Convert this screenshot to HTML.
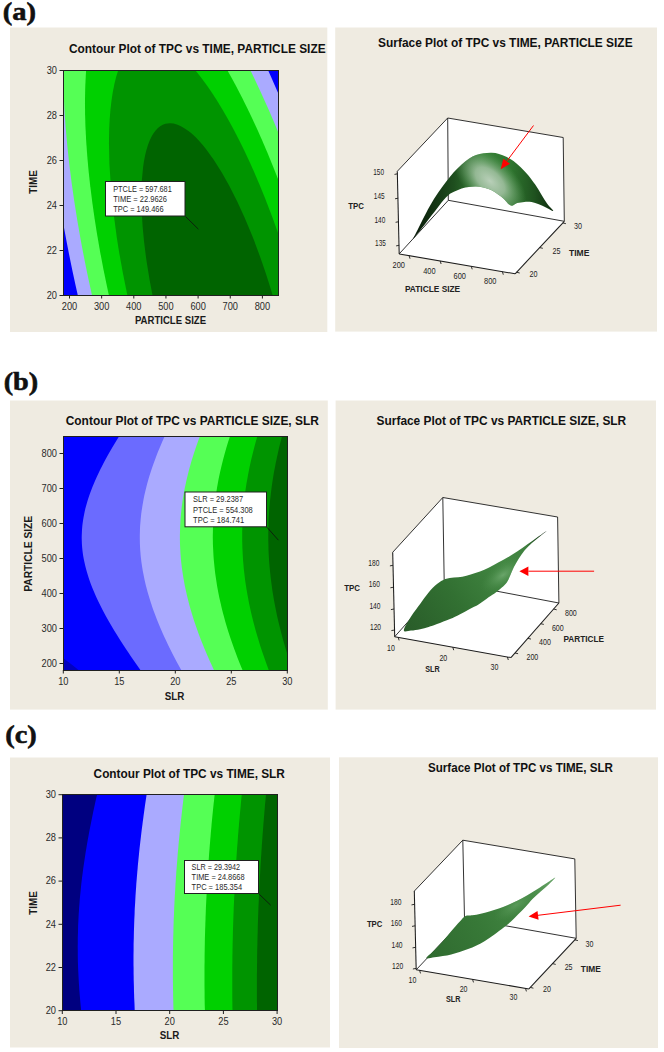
<!DOCTYPE html>
<html><head><meta charset="utf-8"><title>Figure</title>
<style>html,body{margin:0;padding:0;background:#fff}svg{display:block}</style>
</head><body>
<svg width="664" height="1052" viewBox="0 0 664 1052">
<rect width="664" height="1052" fill="#ffffff"/>
<rect x="10" y="27.5" width="317.3" height="304.5" fill="#efebe1"/>
<rect x="335.2" y="27.5" width="321.8" height="304.1" fill="#efebe1"/>
<rect x="10" y="400.5" width="317.8" height="309.1" fill="#efebe1"/>
<rect x="335.6" y="400.5" width="320.4" height="309.1" fill="#efebe1"/>
<rect x="10" y="757.5" width="320" height="290.0" fill="#efebe1"/>
<rect x="339" y="757.3" width="319" height="290.70000000000005" fill="#efebe1"/>
<text x="2.8" y="20.3" font-family="Liberation Serif, sans-serif" font-size="24.5" font-weight="bold" textLength="33.3" lengthAdjust="spacingAndGlyphs" stroke="#111" stroke-width="0.55" fill="#111">(a)</text>
<text x="3.7" y="389.5" font-family="Liberation Serif, sans-serif" font-size="24.5" font-weight="bold" textLength="34.5" lengthAdjust="spacingAndGlyphs" stroke="#111" stroke-width="0.55" fill="#111">(b)</text>
<text x="5.2" y="742.7" font-family="Liberation Serif, sans-serif" font-size="24.5" font-weight="bold" textLength="31.5" lengthAdjust="spacingAndGlyphs" stroke="#111" stroke-width="0.55" fill="#111">(c)</text>
<clipPath id="cpa"><rect x="63" y="70" width="216" height="226"/></clipPath>
<g clip-path="url(#cpa)">
<rect x="63" y="70" width="216" height="226" fill="#0000ff"/>
<ellipse cx="220.6" cy="327.6" rx="469.3" ry="130.8" transform="rotate(-105.14 220.6 327.6)" fill="#aaaaff"/>
<ellipse cx="220.6" cy="327.6" rx="419.9" ry="117.1" transform="rotate(-105.14 220.6 327.6)" fill="#55ff55"/>
<ellipse cx="220.6" cy="327.6" rx="361.7" ry="100.8" transform="rotate(-105.14 220.6 327.6)" fill="#00d000"/>
<ellipse cx="220.6" cy="327.6" rx="297.6" ry="83.0" transform="rotate(-105.14 220.6 327.6)" fill="#009400"/>
<ellipse cx="220.6" cy="327.6" rx="211.2" ry="58.9" transform="rotate(-105.14 220.6 327.6)" fill="#006400"/>
</g>
<rect x="63.5" y="70.5" width="215" height="225" fill="none" stroke="#202020" stroke-width="1"/>
<text x="69" y="53.3" font-family="Liberation Sans, sans-serif" font-size="13.4" font-weight="bold" textLength="256.6" lengthAdjust="spacingAndGlyphs" fill="#111">Contour Plot of TPC vs TIME, PARTICLE SIZE</text>
<line x1="69.5" y1="295" x2="69.5" y2="298.5" stroke="#202020" stroke-width="1"/>
<text x="69.5" y="309.6" font-family="Liberation Sans, sans-serif" font-size="10.3" text-anchor="middle" textLength="15.450000000000001" lengthAdjust="spacingAndGlyphs" fill="#2a2a2a">200</text>
<line x1="101.65" y1="295" x2="101.65" y2="298.5" stroke="#202020" stroke-width="1"/>
<text x="101.65" y="309.6" font-family="Liberation Sans, sans-serif" font-size="10.3" text-anchor="middle" textLength="15.450000000000001" lengthAdjust="spacingAndGlyphs" fill="#2a2a2a">300</text>
<line x1="133.8" y1="295" x2="133.8" y2="298.5" stroke="#202020" stroke-width="1"/>
<text x="133.8" y="309.6" font-family="Liberation Sans, sans-serif" font-size="10.3" text-anchor="middle" textLength="15.450000000000001" lengthAdjust="spacingAndGlyphs" fill="#2a2a2a">400</text>
<line x1="165.95" y1="295" x2="165.95" y2="298.5" stroke="#202020" stroke-width="1"/>
<text x="165.95" y="309.6" font-family="Liberation Sans, sans-serif" font-size="10.3" text-anchor="middle" textLength="15.450000000000001" lengthAdjust="spacingAndGlyphs" fill="#2a2a2a">500</text>
<line x1="198.1" y1="295" x2="198.1" y2="298.5" stroke="#202020" stroke-width="1"/>
<text x="198.1" y="309.6" font-family="Liberation Sans, sans-serif" font-size="10.3" text-anchor="middle" textLength="15.450000000000001" lengthAdjust="spacingAndGlyphs" fill="#2a2a2a">600</text>
<line x1="230.25" y1="295" x2="230.25" y2="298.5" stroke="#202020" stroke-width="1"/>
<text x="230.25" y="309.6" font-family="Liberation Sans, sans-serif" font-size="10.3" text-anchor="middle" textLength="15.450000000000001" lengthAdjust="spacingAndGlyphs" fill="#2a2a2a">700</text>
<line x1="262.4" y1="295" x2="262.4" y2="298.5" stroke="#202020" stroke-width="1"/>
<text x="262.4" y="309.6" font-family="Liberation Sans, sans-serif" font-size="10.3" text-anchor="middle" textLength="15.450000000000001" lengthAdjust="spacingAndGlyphs" fill="#2a2a2a">800</text>
<line x1="59.5" y1="295.5" x2="63" y2="295.5" stroke="#202020" stroke-width="1"/>
<text x="57" y="298.8" font-family="Liberation Sans, sans-serif" font-size="10.3" text-anchor="end" textLength="10.3" lengthAdjust="spacingAndGlyphs" fill="#2a2a2a">20</text>
<line x1="59.5" y1="250.5" x2="63" y2="250.5" stroke="#202020" stroke-width="1"/>
<text x="57" y="253.8" font-family="Liberation Sans, sans-serif" font-size="10.3" text-anchor="end" textLength="10.3" lengthAdjust="spacingAndGlyphs" fill="#2a2a2a">22</text>
<line x1="59.5" y1="205.5" x2="63" y2="205.5" stroke="#202020" stroke-width="1"/>
<text x="57" y="208.8" font-family="Liberation Sans, sans-serif" font-size="10.3" text-anchor="end" textLength="10.3" lengthAdjust="spacingAndGlyphs" fill="#2a2a2a">24</text>
<line x1="59.5" y1="160.5" x2="63" y2="160.5" stroke="#202020" stroke-width="1"/>
<text x="57" y="163.8" font-family="Liberation Sans, sans-serif" font-size="10.3" text-anchor="end" textLength="10.3" lengthAdjust="spacingAndGlyphs" fill="#2a2a2a">26</text>
<line x1="59.5" y1="115.5" x2="63" y2="115.5" stroke="#202020" stroke-width="1"/>
<text x="57" y="118.8" font-family="Liberation Sans, sans-serif" font-size="10.3" text-anchor="end" textLength="10.3" lengthAdjust="spacingAndGlyphs" fill="#2a2a2a">28</text>
<line x1="59.5" y1="70.5" x2="63" y2="70.5" stroke="#202020" stroke-width="1"/>
<text x="57" y="73.8" font-family="Liberation Sans, sans-serif" font-size="10.3" text-anchor="end" textLength="10.3" lengthAdjust="spacingAndGlyphs" fill="#2a2a2a">30</text>
<text x="170.5" y="324" font-family="Liberation Sans, sans-serif" font-size="10" font-weight="bold" text-anchor="middle" textLength="71.2" lengthAdjust="spacingAndGlyphs" fill="#1a1a1a">PARTICLE SIZE</text>
<text x="36.7" y="182" font-family="Liberation Sans, sans-serif" font-size="10" font-weight="bold" text-anchor="middle" textLength="23.3" lengthAdjust="spacingAndGlyphs" transform="rotate(-90 36.7 182)" fill="#1a1a1a">TIME</text>
<line x1="185.5" y1="216.5" x2="198.4" y2="229.2" stroke="#101010" stroke-width="0.8"/>
<rect x="105.5" y="181.5" width="79.5" height="34.5" fill="#ffffff" stroke="#202020" stroke-width="1"/>
<text x="113.2" y="192.10000000000002" font-family="Liberation Sans, sans-serif" font-size="8.8" textLength="58.6" lengthAdjust="spacingAndGlyphs" fill="#2a2a2a">PTCLE = 597.681</text>
<text x="113.2" y="201.8" font-family="Liberation Sans, sans-serif" font-size="8.8" textLength="53.8" lengthAdjust="spacingAndGlyphs" fill="#2a2a2a">TIME = 22.9626</text>
<text x="113.2" y="211.8" font-family="Liberation Sans, sans-serif" font-size="8.8" textLength="50.4" lengthAdjust="spacingAndGlyphs" fill="#2a2a2a">TPC = 149.466</text>
<clipPath id="cpb"><rect x="63" y="436" width="225" height="235"/></clipPath>
<g clip-path="url(#cpb)">
<rect x="63" y="436" width="225" height="235" fill="#0000c0"/>
<path d="M44.5 430.0C42.7 431.0 37.8 434.0 33.6 436.0C29.5 438.0 26.1 440.0 19.5 442.0C12.9 444.0 -1.7 446.0 -5.9 448.0C-10.1 450.0 -5.9 452.0 -5.9 454.0C-5.8 456.0 -5.8 458.0 -5.8 460.0C-5.8 462.0 -5.8 464.0 -5.8 466.0C-5.8 468.0 -5.8 470.0 -5.7 472.0C-5.7 474.0 -5.7 476.0 -5.7 478.0C-5.7 480.0 -5.7 482.0 -5.7 484.0C-5.7 486.0 -5.7 488.0 -5.6 490.0C-5.6 492.0 -5.6 494.0 -5.6 496.0C-5.6 498.0 -5.6 500.0 -5.6 502.0C-5.6 504.0 -5.6 506.0 -5.5 508.0C-5.5 510.0 -5.5 512.0 -5.5 514.0C-5.5 516.0 -5.5 518.0 -5.5 520.0C-5.5 522.0 -5.5 524.0 -5.4 526.0C-5.4 528.0 -5.4 530.0 -5.4 532.0C-5.4 534.0 -5.4 536.0 -5.4 538.0C-5.4 540.0 -5.3 542.0 -5.3 544.0C-5.3 546.0 -5.3 548.0 -5.3 550.0C-5.3 552.0 -5.3 554.0 -5.3 556.0C-5.3 558.0 -5.2 560.0 -5.2 562.0C-5.2 564.0 -5.2 566.0 -5.2 568.0C-5.2 570.0 -5.2 572.0 -5.2 574.0C-5.2 576.0 -5.1 578.0 -5.1 580.0C-5.1 582.0 -5.1 584.0 -5.1 586.0C-5.1 588.0 -5.1 590.0 -5.1 592.0C-5.1 594.0 -5.0 596.0 -5.0 598.0C-5.0 600.0 -5.0 602.0 -5.0 604.0C-5.0 606.0 -5.0 608.0 -5.0 610.0C-4.9 612.0 -4.9 614.0 -4.9 616.0C-4.9 618.0 -4.9 620.0 -4.9 622.0C-4.9 624.0 -8.9 626.0 -4.9 628.0C-0.9 630.0 12.7 632.0 19.1 634.0C25.6 636.0 29.5 638.0 33.8 640.0C38.1 642.0 41.5 644.0 44.9 646.0C48.3 648.0 51.4 650.0 54.4 652.0C57.4 654.0 60.2 656.0 63.0 658.0C65.7 660.0 68.4 662.0 71.0 664.0C73.6 666.0 76.1 668.0 78.5 670.0C81.0 672.0 84.6 675.0 85.8 676.0 L293 676.0 L293 430.0 Z" fill="#0000ff"/>
<path d="M123.1 430.0C122.4 431.0 120.5 434.0 119.3 436.0C118.0 438.0 116.8 440.0 115.6 442.0C114.4 444.0 113.2 446.0 112.0 448.0C110.8 450.0 109.7 452.0 108.5 454.0C107.4 456.0 106.3 458.0 105.2 460.0C104.1 462.0 103.1 464.0 102.1 466.0C101.0 468.0 100.0 470.0 99.1 472.0C98.1 474.0 97.2 476.0 96.3 478.0C95.4 480.0 94.5 482.0 93.7 484.0C92.8 486.0 92.0 488.0 91.3 490.0C90.5 492.0 89.8 494.0 89.1 496.0C88.4 498.0 87.8 500.0 87.2 502.0C86.6 504.0 86.1 506.0 85.5 508.0C85.0 510.0 84.6 512.0 84.2 514.0C83.8 516.0 83.4 518.0 83.1 520.0C82.8 522.0 82.5 524.0 82.3 526.0C82.1 528.0 82.0 530.0 81.9 532.0C81.8 534.0 81.7 536.0 81.7 538.0C81.8 540.0 81.8 542.0 81.9 544.0C82.0 546.0 82.2 548.0 82.4 550.0C82.6 552.0 82.9 554.0 83.2 556.0C83.6 558.0 83.9 560.0 84.4 562.0C84.8 564.0 85.3 566.0 85.8 568.0C86.3 570.0 86.9 572.0 87.5 574.0C88.1 576.0 88.7 578.0 89.4 580.0C90.1 582.0 90.8 584.0 91.6 586.0C92.4 588.0 93.2 590.0 94.1 592.0C94.9 594.0 95.8 596.0 96.7 598.0C97.6 600.0 98.6 602.0 99.6 604.0C100.6 606.0 101.6 608.0 102.6 610.0C103.7 612.0 104.7 614.0 105.8 616.0C106.9 618.0 108.1 620.0 109.2 622.0C110.4 624.0 111.5 626.0 112.7 628.0C113.9 630.0 115.1 632.0 116.4 634.0C117.6 636.0 118.9 638.0 120.1 640.0C121.4 642.0 122.7 644.0 124.0 646.0C125.3 648.0 126.6 650.0 128.0 652.0C129.3 654.0 130.7 656.0 132.0 658.0C133.4 660.0 134.8 662.0 136.2 664.0C137.6 666.0 139.0 668.0 140.4 670.0C141.8 672.0 144.0 675.0 144.7 676.0 L293 676.0 L293 430.0 Z" fill="#6b6bff"/>
<path d="M167.6 430.0C167.2 431.0 165.7 434.0 164.8 436.0C163.9 438.0 163.0 440.0 162.1 442.0C161.3 444.0 160.4 446.0 159.6 448.0C158.7 450.0 157.9 452.0 157.1 454.0C156.4 456.0 155.6 458.0 154.9 460.0C154.1 462.0 153.4 464.0 152.7 466.0C152.0 468.0 151.3 470.0 150.7 472.0C150.0 474.0 149.4 476.0 148.8 478.0C148.2 480.0 147.7 482.0 147.1 484.0C146.6 486.0 146.1 488.0 145.6 490.0C145.1 492.0 144.7 494.0 144.2 496.0C143.8 498.0 143.4 500.0 143.1 502.0C142.7 504.0 142.4 506.0 142.1 508.0C141.7 510.0 141.5 512.0 141.2 514.0C141.0 516.0 140.8 518.0 140.6 520.0C140.4 522.0 140.3 524.0 140.1 526.0C140.0 528.0 139.9 530.0 139.9 532.0C139.8 534.0 139.8 536.0 139.8 538.0C139.8 540.0 139.9 542.0 139.9 544.0C140.0 546.0 140.1 548.0 140.2 550.0C140.4 552.0 140.5 554.0 140.7 556.0C140.9 558.0 141.2 560.0 141.4 562.0C141.7 564.0 142.0 566.0 142.3 568.0C142.6 570.0 143.0 572.0 143.4 574.0C143.8 576.0 144.2 578.0 144.6 580.0C145.1 582.0 145.5 584.0 146.0 586.0C146.5 588.0 147.1 590.0 147.6 592.0C148.2 594.0 148.8 596.0 149.4 598.0C150.0 600.0 150.6 602.0 151.3 604.0C151.9 606.0 152.6 608.0 153.3 610.0C154.1 612.0 154.8 614.0 155.6 616.0C156.3 618.0 157.1 620.0 157.9 622.0C158.7 624.0 159.6 626.0 160.4 628.0C161.3 630.0 162.1 632.0 163.0 634.0C163.9 636.0 164.8 638.0 165.8 640.0C166.7 642.0 167.7 644.0 168.6 646.0C169.6 648.0 170.6 650.0 171.6 652.0C172.6 654.0 173.6 656.0 174.7 658.0C175.7 660.0 176.8 662.0 177.9 664.0C179.0 666.0 180.1 668.0 181.2 670.0C182.3 672.0 184.0 675.0 184.5 676.0 L293 676.0 L293 430.0 Z" fill="#aaaaff"/>
<path d="M202.3 430.0C201.9 431.0 200.8 434.0 200.0 436.0C199.3 438.0 198.5 440.0 197.8 442.0C197.1 444.0 196.4 446.0 195.7 448.0C195.0 450.0 194.4 452.0 193.7 454.0C193.1 456.0 192.4 458.0 191.8 460.0C191.2 462.0 190.7 464.0 190.1 466.0C189.5 468.0 189.0 470.0 188.5 472.0C188.0 474.0 187.5 476.0 187.0 478.0C186.5 480.0 186.1 482.0 185.7 484.0C185.2 486.0 184.8 488.0 184.4 490.0C184.1 492.0 183.7 494.0 183.4 496.0C183.0 498.0 182.7 500.0 182.4 502.0C182.1 504.0 181.9 506.0 181.6 508.0C181.4 510.0 181.2 512.0 181.0 514.0C180.8 516.0 180.6 518.0 180.5 520.0C180.4 522.0 180.3 524.0 180.2 526.0C180.1 528.0 180.0 530.0 180.0 532.0C179.9 534.0 179.9 536.0 179.9 538.0C179.9 540.0 180.0 542.0 180.0 544.0C180.1 546.0 180.2 548.0 180.3 550.0C180.4 552.0 180.5 554.0 180.7 556.0C180.8 558.0 181.0 560.0 181.2 562.0C181.4 564.0 181.7 566.0 181.9 568.0C182.2 570.0 182.5 572.0 182.8 574.0C183.1 576.0 183.4 578.0 183.8 580.0C184.1 582.0 184.5 584.0 184.9 586.0C185.3 588.0 185.7 590.0 186.2 592.0C186.6 594.0 187.1 596.0 187.6 598.0C188.1 600.0 188.6 602.0 189.1 604.0C189.6 606.0 190.2 608.0 190.8 610.0C191.4 612.0 192.0 614.0 192.6 616.0C193.2 618.0 193.8 620.0 194.5 622.0C195.2 624.0 195.9 626.0 196.6 628.0C197.3 630.0 198.0 632.0 198.7 634.0C199.5 636.0 200.2 638.0 201.0 640.0C201.8 642.0 202.6 644.0 203.4 646.0C204.2 648.0 205.0 650.0 205.9 652.0C206.7 654.0 207.6 656.0 208.5 658.0C209.3 660.0 210.2 662.0 211.2 664.0C212.1 666.0 213.0 668.0 213.9 670.0C214.9 672.0 216.3 675.0 216.8 676.0 L293 676.0 L293 430.0 Z" fill="#55ff55"/>
<path d="M232.1 430.0C231.8 431.0 230.7 434.0 230.1 436.0C229.4 438.0 228.8 440.0 228.1 442.0C227.5 444.0 226.9 446.0 226.3 448.0C225.7 450.0 225.2 452.0 224.6 454.0C224.1 456.0 223.5 458.0 223.0 460.0C222.5 462.0 222.0 464.0 221.5 466.0C221.0 468.0 220.6 470.0 220.1 472.0C219.7 474.0 219.2 476.0 218.8 478.0C218.4 480.0 218.1 482.0 217.7 484.0C217.3 486.0 217.0 488.0 216.7 490.0C216.3 492.0 216.0 494.0 215.7 496.0C215.5 498.0 215.2 500.0 215.0 502.0C214.7 504.0 214.5 506.0 214.3 508.0C214.1 510.0 213.9 512.0 213.7 514.0C213.6 516.0 213.4 518.0 213.3 520.0C213.2 522.0 213.1 524.0 213.0 526.0C213.0 528.0 212.9 530.0 212.9 532.0C212.8 534.0 212.8 536.0 212.8 538.0C212.9 540.0 212.9 542.0 212.9 544.0C213.0 546.0 213.1 548.0 213.2 550.0C213.3 552.0 213.4 554.0 213.5 556.0C213.6 558.0 213.8 560.0 214.0 562.0C214.2 564.0 214.4 566.0 214.6 568.0C214.8 570.0 215.0 572.0 215.3 574.0C215.6 576.0 215.9 578.0 216.2 580.0C216.5 582.0 216.8 584.0 217.1 586.0C217.5 588.0 217.8 590.0 218.2 592.0C218.6 594.0 219.0 596.0 219.4 598.0C219.9 600.0 220.3 602.0 220.8 604.0C221.2 606.0 221.7 608.0 222.2 610.0C222.7 612.0 223.2 614.0 223.8 616.0C224.3 618.0 224.9 620.0 225.4 622.0C226.0 624.0 226.6 626.0 227.2 628.0C227.8 630.0 228.4 632.0 229.1 634.0C229.7 636.0 230.4 638.0 231.1 640.0C231.8 642.0 232.5 644.0 233.2 646.0C233.9 648.0 234.6 650.0 235.4 652.0C236.1 654.0 236.9 656.0 237.6 658.0C238.4 660.0 239.2 662.0 240.0 664.0C240.8 666.0 241.6 668.0 242.5 670.0C243.3 672.0 244.6 675.0 245.0 676.0 L293 676.0 L293 430.0 Z" fill="#00d000"/>
<path d="M259.3 430.0C259.0 431.0 258.0 434.0 257.4 436.0C256.9 438.0 256.3 440.0 255.7 442.0C255.2 444.0 254.6 446.0 254.1 448.0C253.6 450.0 253.1 452.0 252.6 454.0C252.1 456.0 251.6 458.0 251.1 460.0C250.7 462.0 250.2 464.0 249.8 466.0C249.4 468.0 249.0 470.0 248.6 472.0C248.2 474.0 247.8 476.0 247.5 478.0C247.1 480.0 246.8 482.0 246.4 484.0C246.1 486.0 245.8 488.0 245.5 490.0C245.2 492.0 245.0 494.0 244.7 496.0C244.5 498.0 244.2 500.0 244.0 502.0C243.8 504.0 243.6 506.0 243.4 508.0C243.3 510.0 243.1 512.0 243.0 514.0C242.8 516.0 242.7 518.0 242.6 520.0C242.5 522.0 242.4 524.0 242.4 526.0C242.3 528.0 242.2 530.0 242.2 532.0C242.2 534.0 242.2 536.0 242.2 538.0C242.2 540.0 242.2 542.0 242.3 544.0C242.3 546.0 242.4 548.0 242.5 550.0C242.6 552.0 242.7 554.0 242.8 556.0C242.9 558.0 243.1 560.0 243.2 562.0C243.4 564.0 243.6 566.0 243.7 568.0C243.9 570.0 244.2 572.0 244.4 574.0C244.6 576.0 244.9 578.0 245.1 580.0C245.4 582.0 245.7 584.0 246.0 586.0C246.3 588.0 246.6 590.0 247.0 592.0C247.3 594.0 247.7 596.0 248.1 598.0C248.4 600.0 248.8 602.0 249.2 604.0C249.7 606.0 250.1 608.0 250.5 610.0C251.0 612.0 251.4 614.0 251.9 616.0C252.4 618.0 252.9 620.0 253.4 622.0C253.9 624.0 254.5 626.0 255.0 628.0C255.5 630.0 256.1 632.0 256.7 634.0C257.3 636.0 257.9 638.0 258.5 640.0C259.1 642.0 259.7 644.0 260.3 646.0C261.0 648.0 261.6 650.0 262.3 652.0C263.0 654.0 263.7 656.0 264.4 658.0C265.1 660.0 265.8 662.0 266.5 664.0C267.2 666.0 268.0 668.0 268.7 670.0C269.5 672.0 270.7 675.0 271.1 676.0 L293 676.0 L293 430.0 Z" fill="#009400"/>
<path d="M283.8 430.0C283.5 431.0 282.6 434.0 282.1 436.0C281.6 438.0 281.0 440.0 280.5 442.0C280.0 444.0 279.5 446.0 279.0 448.0C278.6 450.0 278.1 452.0 277.7 454.0C277.2 456.0 276.8 458.0 276.4 460.0C275.9 462.0 275.5 464.0 275.2 466.0C274.8 468.0 274.4 470.0 274.0 472.0C273.7 474.0 273.3 476.0 273.0 478.0C272.7 480.0 272.4 482.0 272.1 484.0C271.8 486.0 271.5 488.0 271.3 490.0C271.0 492.0 270.8 494.0 270.6 496.0C270.3 498.0 270.1 500.0 269.9 502.0C269.7 504.0 269.6 506.0 269.4 508.0C269.2 510.0 269.1 512.0 269.0 514.0C268.8 516.0 268.7 518.0 268.6 520.0C268.6 522.0 268.5 524.0 268.4 526.0C268.4 528.0 268.3 530.0 268.3 532.0C268.3 534.0 268.3 536.0 268.3 538.0C268.3 540.0 268.3 542.0 268.4 544.0C268.4 546.0 268.5 548.0 268.5 550.0C268.6 552.0 268.7 554.0 268.8 556.0C268.9 558.0 269.1 560.0 269.2 562.0C269.4 564.0 269.5 566.0 269.7 568.0C269.9 570.0 270.1 572.0 270.3 574.0C270.5 576.0 270.7 578.0 271.0 580.0C271.2 582.0 271.5 584.0 271.8 586.0C272.0 588.0 272.3 590.0 272.6 592.0C273.0 594.0 273.3 596.0 273.6 598.0C274.0 600.0 274.3 602.0 274.7 604.0C275.1 606.0 275.5 608.0 275.9 610.0C276.3 612.0 276.7 614.0 277.1 616.0C277.6 618.0 278.0 620.0 278.5 622.0C279.0 624.0 279.5 626.0 280.0 628.0C280.5 630.0 281.0 632.0 281.5 634.0C282.0 636.0 282.6 638.0 283.1 640.0C283.7 642.0 284.3 644.0 284.9 646.0C285.4 648.0 286.0 650.0 286.7 652.0C287.3 654.0 287.9 656.0 288.5 658.0C289.2 660.0 289.8 662.0 290.5 664.0C291.2 666.0 291.9 668.0 292.6 670.0C293.3 672.0 294.3 675.0 294.7 676.0 L293 676.0 L293 430.0 Z" fill="#006400"/>
</g>
<rect x="63.5" y="436.5" width="224" height="234" fill="none" stroke="#202020" stroke-width="1"/>
<text x="65.7" y="424.8" font-family="Liberation Sans, sans-serif" font-size="13.4" font-weight="bold" textLength="253.2" lengthAdjust="spacingAndGlyphs" fill="#111">Contour Plot of TPC vs PARTICLE SIZE, SLR</text>
<line x1="63.3" y1="670" x2="63.3" y2="673.5" stroke="#202020" stroke-width="1"/>
<text x="63.3" y="685.1" font-family="Liberation Sans, sans-serif" font-size="10.3" text-anchor="middle" textLength="10.3" lengthAdjust="spacingAndGlyphs" fill="#2a2a2a">10</text>
<line x1="119.3" y1="670" x2="119.3" y2="673.5" stroke="#202020" stroke-width="1"/>
<text x="119.3" y="685.1" font-family="Liberation Sans, sans-serif" font-size="10.3" text-anchor="middle" textLength="10.3" lengthAdjust="spacingAndGlyphs" fill="#2a2a2a">15</text>
<line x1="175.3" y1="670" x2="175.3" y2="673.5" stroke="#202020" stroke-width="1"/>
<text x="175.3" y="685.1" font-family="Liberation Sans, sans-serif" font-size="10.3" text-anchor="middle" textLength="10.3" lengthAdjust="spacingAndGlyphs" fill="#2a2a2a">20</text>
<line x1="231.3" y1="670" x2="231.3" y2="673.5" stroke="#202020" stroke-width="1"/>
<text x="231.3" y="685.1" font-family="Liberation Sans, sans-serif" font-size="10.3" text-anchor="middle" textLength="10.3" lengthAdjust="spacingAndGlyphs" fill="#2a2a2a">25</text>
<line x1="287.3" y1="670" x2="287.3" y2="673.5" stroke="#202020" stroke-width="1"/>
<text x="287.3" y="685.1" font-family="Liberation Sans, sans-serif" font-size="10.3" text-anchor="middle" textLength="10.3" lengthAdjust="spacingAndGlyphs" fill="#2a2a2a">30</text>
<line x1="59.5" y1="663.5" x2="63" y2="663.5" stroke="#202020" stroke-width="1"/>
<text x="57" y="666.8" font-family="Liberation Sans, sans-serif" font-size="10.3" text-anchor="end" textLength="15.450000000000001" lengthAdjust="spacingAndGlyphs" fill="#2a2a2a">200</text>
<line x1="59.5" y1="628.5" x2="63" y2="628.5" stroke="#202020" stroke-width="1"/>
<text x="57" y="631.8" font-family="Liberation Sans, sans-serif" font-size="10.3" text-anchor="end" textLength="15.450000000000001" lengthAdjust="spacingAndGlyphs" fill="#2a2a2a">300</text>
<line x1="59.5" y1="593.5" x2="63" y2="593.5" stroke="#202020" stroke-width="1"/>
<text x="57" y="596.8" font-family="Liberation Sans, sans-serif" font-size="10.3" text-anchor="end" textLength="15.450000000000001" lengthAdjust="spacingAndGlyphs" fill="#2a2a2a">400</text>
<line x1="59.5" y1="558.5" x2="63" y2="558.5" stroke="#202020" stroke-width="1"/>
<text x="57" y="561.8" font-family="Liberation Sans, sans-serif" font-size="10.3" text-anchor="end" textLength="15.450000000000001" lengthAdjust="spacingAndGlyphs" fill="#2a2a2a">500</text>
<line x1="59.5" y1="523.5" x2="63" y2="523.5" stroke="#202020" stroke-width="1"/>
<text x="57" y="526.8" font-family="Liberation Sans, sans-serif" font-size="10.3" text-anchor="end" textLength="15.450000000000001" lengthAdjust="spacingAndGlyphs" fill="#2a2a2a">600</text>
<line x1="59.5" y1="488.5" x2="63" y2="488.5" stroke="#202020" stroke-width="1"/>
<text x="57" y="491.8" font-family="Liberation Sans, sans-serif" font-size="10.3" text-anchor="end" textLength="15.450000000000001" lengthAdjust="spacingAndGlyphs" fill="#2a2a2a">700</text>
<line x1="59.5" y1="453.5" x2="63" y2="453.5" stroke="#202020" stroke-width="1"/>
<text x="57" y="456.8" font-family="Liberation Sans, sans-serif" font-size="10.3" text-anchor="end" textLength="15.450000000000001" lengthAdjust="spacingAndGlyphs" fill="#2a2a2a">800</text>
<text x="174.6" y="699.5" font-family="Liberation Sans, sans-serif" font-size="10" font-weight="bold" text-anchor="middle" textLength="19.6" lengthAdjust="spacingAndGlyphs" fill="#1a1a1a">SLR</text>
<text x="32.3" y="553.8" font-family="Liberation Sans, sans-serif" font-size="10" font-weight="bold" text-anchor="middle" textLength="75.8" lengthAdjust="spacingAndGlyphs" transform="rotate(-90 32.3 553.8)" fill="#1a1a1a">PARTICLE SIZE</text>
<line x1="267" y1="527.3" x2="278.4" y2="540.2" stroke="#101010" stroke-width="0.8"/>
<rect x="185.0" y="492.0" width="81.5" height="34.799999999999955" fill="#ffffff" stroke="#202020" stroke-width="1"/>
<text x="193.1" y="502.2" font-family="Liberation Sans, sans-serif" font-size="8.8" textLength="50" lengthAdjust="spacingAndGlyphs" fill="#2a2a2a">SLR = 29.2387</text>
<text x="193.1" y="512.8" font-family="Liberation Sans, sans-serif" font-size="8.8" textLength="59.7" lengthAdjust="spacingAndGlyphs" fill="#2a2a2a">PTCLE = 554.308</text>
<text x="193.1" y="523.0" font-family="Liberation Sans, sans-serif" font-size="8.8" textLength="51" lengthAdjust="spacingAndGlyphs" fill="#2a2a2a">TPC = 184.741</text>
<clipPath id="cpc"><rect x="62" y="794" width="216" height="217"/></clipPath>
<g clip-path="url(#cpc)">
<rect x="62" y="794" width="216" height="217" fill="#000080"/>
<path d="M98.6 788.0C98.4 789.0 97.7 792.0 97.2 794.0C96.7 796.0 96.3 798.0 95.8 800.0C95.4 802.0 94.9 804.0 94.5 806.0C94.1 808.0 93.6 810.0 93.2 812.0C92.8 814.0 92.4 816.0 92.0 818.0C91.6 820.0 91.2 822.0 90.8 824.0C90.4 826.0 90.0 828.0 89.6 830.0C89.2 832.0 88.8 834.0 88.5 836.0C88.1 838.0 87.7 840.0 87.4 842.0C87.0 844.0 86.7 846.0 86.4 848.0C86.0 850.0 85.7 852.0 85.4 854.0C85.1 856.0 84.8 858.0 84.5 860.0C84.2 862.0 83.9 864.0 83.6 866.0C83.3 868.0 83.0 870.0 82.8 872.0C82.5 874.0 82.3 876.0 82.0 878.0C81.8 880.0 81.5 882.0 81.3 884.0C81.1 886.0 80.9 888.0 80.7 890.0C80.5 892.0 80.3 894.0 80.1 896.0C79.9 898.0 79.7 900.0 79.6 902.0C79.4 904.0 79.3 906.0 79.1 908.0C79.0 910.0 78.9 912.0 78.7 914.0C78.6 916.0 78.5 918.0 78.4 920.0C78.3 922.0 78.2 924.0 78.1 926.0C78.1 928.0 78.0 930.0 78.0 932.0C77.9 934.0 77.9 936.0 77.8 938.0C77.8 940.0 77.8 942.0 77.8 944.0C77.7 946.0 77.7 948.0 77.8 950.0C77.8 952.0 77.8 954.0 77.8 956.0C77.8 958.0 77.9 960.0 77.9 962.0C78.0 964.0 78.1 966.0 78.1 968.0C78.2 970.0 78.3 972.0 78.4 974.0C78.5 976.0 78.6 978.0 78.7 980.0C78.8 982.0 78.9 984.0 79.1 986.0C79.2 988.0 79.3 990.0 79.5 992.0C79.7 994.0 79.8 996.0 80.0 998.0C80.2 1000.0 80.3 1002.0 80.5 1004.0C80.7 1006.0 80.9 1008.0 81.1 1010.0C81.3 1012.0 81.7 1015.0 81.8 1016.0 L283 1016.0 L283 788.0 Z" fill="#0000ff"/>
<path d="M147.7 788.0C147.5 789.0 147.0 792.0 146.7 794.0C146.4 796.0 146.1 798.0 145.8 800.0C145.5 802.0 145.2 804.0 144.9 806.0C144.6 808.0 144.4 810.0 144.1 812.0C143.8 814.0 143.5 816.0 143.3 818.0C143.0 820.0 142.7 822.0 142.5 824.0C142.2 826.0 142.0 828.0 141.7 830.0C141.5 832.0 141.2 834.0 141.0 836.0C140.8 838.0 140.5 840.0 140.3 842.0C140.1 844.0 139.8 846.0 139.6 848.0C139.4 850.0 139.2 852.0 139.0 854.0C138.8 856.0 138.6 858.0 138.4 860.0C138.2 862.0 138.0 864.0 137.8 866.0C137.7 868.0 137.5 870.0 137.3 872.0C137.1 874.0 137.0 876.0 136.8 878.0C136.6 880.0 136.5 882.0 136.3 884.0C136.2 886.0 136.1 888.0 135.9 890.0C135.8 892.0 135.6 894.0 135.5 896.0C135.4 898.0 135.3 900.0 135.2 902.0C135.1 904.0 134.9 906.0 134.8 908.0C134.7 910.0 134.6 912.0 134.6 914.0C134.5 916.0 134.4 918.0 134.3 920.0C134.2 922.0 134.2 924.0 134.1 926.0C134.0 928.0 134.0 930.0 133.9 932.0C133.9 934.0 133.8 936.0 133.8 938.0C133.7 940.0 133.7 942.0 133.6 944.0C133.6 946.0 133.6 948.0 133.6 950.0C133.6 952.0 133.5 954.0 133.5 956.0C133.5 958.0 133.5 960.0 133.5 962.0C133.5 964.0 133.5 966.0 133.6 968.0C133.6 970.0 133.6 972.0 133.6 974.0C133.7 976.0 133.7 978.0 133.7 980.0C133.8 982.0 133.8 984.0 133.9 986.0C133.9 988.0 134.0 990.0 134.0 992.0C134.1 994.0 134.2 996.0 134.2 998.0C134.3 1000.0 134.4 1002.0 134.5 1004.0C134.6 1006.0 134.6 1008.0 134.7 1010.0C134.8 1012.0 135.0 1015.0 135.0 1016.0 L283 1016.0 L283 788.0 Z" fill="#aaaaff"/>
<path d="M184.9 788.0C184.7 789.0 184.3 792.0 184.1 794.0C183.8 796.0 183.6 798.0 183.3 800.0C183.1 802.0 182.9 804.0 182.6 806.0C182.4 808.0 182.2 810.0 181.9 812.0C181.7 814.0 181.5 816.0 181.3 818.0C181.0 820.0 180.8 822.0 180.6 824.0C180.4 826.0 180.2 828.0 180.0 830.0C179.8 832.0 179.6 834.0 179.4 836.0C179.2 838.0 179.0 840.0 178.8 842.0C178.6 844.0 178.4 846.0 178.3 848.0C178.1 850.0 177.9 852.0 177.7 854.0C177.6 856.0 177.4 858.0 177.3 860.0C177.1 862.0 176.9 864.0 176.8 866.0C176.6 868.0 176.5 870.0 176.3 872.0C176.2 874.0 176.1 876.0 175.9 878.0C175.8 880.0 175.7 882.0 175.5 884.0C175.4 886.0 175.3 888.0 175.2 890.0C175.1 892.0 174.9 894.0 174.8 896.0C174.7 898.0 174.6 900.0 174.5 902.0C174.4 904.0 174.3 906.0 174.2 908.0C174.1 910.0 174.1 912.0 174.0 914.0C173.9 916.0 173.8 918.0 173.7 920.0C173.7 922.0 173.6 924.0 173.5 926.0C173.5 928.0 173.4 930.0 173.4 932.0C173.3 934.0 173.3 936.0 173.2 938.0C173.2 940.0 173.1 942.0 173.1 944.0C173.1 946.0 173.0 948.0 173.0 950.0C173.0 952.0 172.9 954.0 172.9 956.0C172.9 958.0 172.9 960.0 172.9 962.0C172.9 964.0 172.9 966.0 172.9 968.0C172.9 970.0 172.9 972.0 172.9 974.0C172.9 976.0 172.9 978.0 172.9 980.0C172.9 982.0 173.0 984.0 173.0 986.0C173.0 988.0 173.0 990.0 173.1 992.0C173.1 994.0 173.1 996.0 173.2 998.0C173.2 1000.0 173.3 1002.0 173.3 1004.0C173.4 1006.0 173.4 1008.0 173.5 1010.0C173.6 1012.0 173.7 1015.0 173.7 1016.0 L283 1016.0 L283 788.0 Z" fill="#55ff55"/>
<path d="M215.4 788.0C215.3 789.0 214.9 792.0 214.7 794.0C214.5 796.0 214.3 798.0 214.1 800.0C213.8 802.0 213.6 804.0 213.4 806.0C213.2 808.0 213.0 810.0 212.8 812.0C212.6 814.0 212.4 816.0 212.2 818.0C212.0 820.0 211.8 822.0 211.6 824.0C211.5 826.0 211.3 828.0 211.1 830.0C210.9 832.0 210.7 834.0 210.6 836.0C210.4 838.0 210.2 840.0 210.1 842.0C209.9 844.0 209.7 846.0 209.6 848.0C209.4 850.0 209.3 852.0 209.1 854.0C209.0 856.0 208.8 858.0 208.7 860.0C208.5 862.0 208.4 864.0 208.2 866.0C208.1 868.0 208.0 870.0 207.8 872.0C207.7 874.0 207.6 876.0 207.5 878.0C207.3 880.0 207.2 882.0 207.1 884.0C207.0 886.0 206.9 888.0 206.8 890.0C206.7 892.0 206.6 894.0 206.5 896.0C206.4 898.0 206.3 900.0 206.2 902.0C206.1 904.0 206.0 906.0 205.9 908.0C205.8 910.0 205.8 912.0 205.7 914.0C205.6 916.0 205.5 918.0 205.5 920.0C205.4 922.0 205.3 924.0 205.3 926.0C205.2 928.0 205.1 930.0 205.1 932.0C205.0 934.0 205.0 936.0 204.9 938.0C204.9 940.0 204.8 942.0 204.8 944.0C204.8 946.0 204.7 948.0 204.7 950.0C204.7 952.0 204.6 954.0 204.6 956.0C204.6 958.0 204.6 960.0 204.6 962.0C204.5 964.0 204.5 966.0 204.5 968.0C204.5 970.0 204.5 972.0 204.5 974.0C204.5 976.0 204.5 978.0 204.5 980.0C204.5 982.0 204.5 984.0 204.5 986.0C204.5 988.0 204.6 990.0 204.6 992.0C204.6 994.0 204.6 996.0 204.6 998.0C204.7 1000.0 204.7 1002.0 204.7 1004.0C204.8 1006.0 204.8 1008.0 204.9 1010.0C204.9 1012.0 205.0 1015.0 205.0 1016.0 L283 1016.0 L283 788.0 Z" fill="#00d000"/>
<path d="M242.4 788.0C242.3 789.0 242.0 792.0 241.8 794.0C241.6 796.0 241.4 798.0 241.2 800.0C241.0 802.0 240.8 804.0 240.7 806.0C240.5 808.0 240.3 810.0 240.1 812.0C239.9 814.0 239.7 816.0 239.6 818.0C239.4 820.0 239.2 822.0 239.0 824.0C238.9 826.0 238.7 828.0 238.5 830.0C238.4 832.0 238.2 834.0 238.0 836.0C237.9 838.0 237.7 840.0 237.6 842.0C237.4 844.0 237.3 846.0 237.1 848.0C237.0 850.0 236.8 852.0 236.7 854.0C236.6 856.0 236.4 858.0 236.3 860.0C236.2 862.0 236.0 864.0 235.9 866.0C235.8 868.0 235.7 870.0 235.5 872.0C235.4 874.0 235.3 876.0 235.2 878.0C235.1 880.0 235.0 882.0 234.9 884.0C234.8 886.0 234.7 888.0 234.6 890.0C234.5 892.0 234.4 894.0 234.3 896.0C234.2 898.0 234.1 900.0 234.0 902.0C233.9 904.0 233.8 906.0 233.7 908.0C233.7 910.0 233.6 912.0 233.5 914.0C233.4 916.0 233.4 918.0 233.3 920.0C233.2 922.0 233.2 924.0 233.1 926.0C233.0 928.0 233.0 930.0 232.9 932.0C232.9 934.0 232.8 936.0 232.8 938.0C232.7 940.0 232.7 942.0 232.6 944.0C232.6 946.0 232.6 948.0 232.5 950.0C232.5 952.0 232.5 954.0 232.4 956.0C232.4 958.0 232.4 960.0 232.4 962.0C232.3 964.0 232.3 966.0 232.3 968.0C232.3 970.0 232.3 972.0 232.3 974.0C232.3 976.0 232.3 978.0 232.3 980.0C232.3 982.0 232.3 984.0 232.3 986.0C232.3 988.0 232.3 990.0 232.3 992.0C232.3 994.0 232.3 996.0 232.3 998.0C232.3 1000.0 232.4 1002.0 232.4 1004.0C232.4 1006.0 232.4 1008.0 232.5 1010.0C232.5 1012.0 232.5 1015.0 232.6 1016.0 L283 1016.0 L283 788.0 Z" fill="#009400"/>
<path d="M266.6 788.0C266.5 789.0 266.2 792.0 266.0 794.0C265.9 796.0 265.7 798.0 265.5 800.0C265.3 802.0 265.1 804.0 264.9 806.0C264.8 808.0 264.6 810.0 264.4 812.0C264.3 814.0 264.1 816.0 263.9 818.0C263.8 820.0 263.6 822.0 263.4 824.0C263.3 826.0 263.1 828.0 263.0 830.0C262.8 832.0 262.7 834.0 262.5 836.0C262.4 838.0 262.2 840.0 262.1 842.0C261.9 844.0 261.8 846.0 261.7 848.0C261.5 850.0 261.4 852.0 261.3 854.0C261.1 856.0 261.0 858.0 260.9 860.0C260.8 862.0 260.6 864.0 260.5 866.0C260.4 868.0 260.3 870.0 260.2 872.0C260.1 874.0 259.9 876.0 259.8 878.0C259.7 880.0 259.6 882.0 259.5 884.0C259.4 886.0 259.3 888.0 259.2 890.0C259.1 892.0 259.0 894.0 258.9 896.0C258.9 898.0 258.8 900.0 258.7 902.0C258.6 904.0 258.5 906.0 258.4 908.0C258.4 910.0 258.3 912.0 258.2 914.0C258.1 916.0 258.1 918.0 258.0 920.0C257.9 922.0 257.9 924.0 257.8 926.0C257.8 928.0 257.7 930.0 257.7 932.0C257.6 934.0 257.5 936.0 257.5 938.0C257.4 940.0 257.4 942.0 257.4 944.0C257.3 946.0 257.3 948.0 257.2 950.0C257.2 952.0 257.2 954.0 257.1 956.0C257.1 958.0 257.1 960.0 257.1 962.0C257.0 964.0 257.0 966.0 257.0 968.0C257.0 970.0 257.0 972.0 256.9 974.0C256.9 976.0 256.9 978.0 256.9 980.0C256.9 982.0 256.9 984.0 256.9 986.0C256.9 988.0 256.9 990.0 256.9 992.0C256.9 994.0 256.9 996.0 256.9 998.0C256.9 1000.0 256.9 1002.0 257.0 1004.0C257.0 1006.0 257.0 1008.0 257.0 1010.0C257.0 1012.0 257.1 1015.0 257.1 1016.0 L283 1016.0 L283 788.0 Z" fill="#006400"/>
</g>
<rect x="62.5" y="794.5" width="215" height="216" fill="none" stroke="#202020" stroke-width="1"/>
<text x="93.6" y="777.9" font-family="Liberation Sans, sans-serif" font-size="13.4" font-weight="bold" textLength="191.3" lengthAdjust="spacingAndGlyphs" fill="#111">Contour Plot of TPC vs TIME, SLR</text>
<line x1="62.3" y1="1010.5" x2="62.3" y2="1014.0" stroke="#202020" stroke-width="1"/>
<text x="62.3" y="1024.8" font-family="Liberation Sans, sans-serif" font-size="10.3" text-anchor="middle" textLength="10.3" lengthAdjust="spacingAndGlyphs" fill="#2a2a2a">10</text>
<line x1="116.0" y1="1010.5" x2="116.0" y2="1014.0" stroke="#202020" stroke-width="1"/>
<text x="116.0" y="1024.8" font-family="Liberation Sans, sans-serif" font-size="10.3" text-anchor="middle" textLength="10.3" lengthAdjust="spacingAndGlyphs" fill="#2a2a2a">15</text>
<line x1="169.7" y1="1010.5" x2="169.7" y2="1014.0" stroke="#202020" stroke-width="1"/>
<text x="169.7" y="1024.8" font-family="Liberation Sans, sans-serif" font-size="10.3" text-anchor="middle" textLength="10.3" lengthAdjust="spacingAndGlyphs" fill="#2a2a2a">20</text>
<line x1="223.40000000000003" y1="1010.5" x2="223.40000000000003" y2="1014.0" stroke="#202020" stroke-width="1"/>
<text x="223.40000000000003" y="1024.8" font-family="Liberation Sans, sans-serif" font-size="10.3" text-anchor="middle" textLength="10.3" lengthAdjust="spacingAndGlyphs" fill="#2a2a2a">25</text>
<line x1="277.1" y1="1010.5" x2="277.1" y2="1014.0" stroke="#202020" stroke-width="1"/>
<text x="277.1" y="1024.8" font-family="Liberation Sans, sans-serif" font-size="10.3" text-anchor="middle" textLength="10.3" lengthAdjust="spacingAndGlyphs" fill="#2a2a2a">30</text>
<line x1="58.5" y1="1010.7" x2="62" y2="1010.7" stroke="#202020" stroke-width="1"/>
<text x="56" y="1014.0" font-family="Liberation Sans, sans-serif" font-size="10.3" text-anchor="end" textLength="10.3" lengthAdjust="spacingAndGlyphs" fill="#2a2a2a">20</text>
<line x1="58.5" y1="967.5" x2="62" y2="967.5" stroke="#202020" stroke-width="1"/>
<text x="56" y="970.8" font-family="Liberation Sans, sans-serif" font-size="10.3" text-anchor="end" textLength="10.3" lengthAdjust="spacingAndGlyphs" fill="#2a2a2a">22</text>
<line x1="58.5" y1="924.3" x2="62" y2="924.3" stroke="#202020" stroke-width="1"/>
<text x="56" y="927.6" font-family="Liberation Sans, sans-serif" font-size="10.3" text-anchor="end" textLength="10.3" lengthAdjust="spacingAndGlyphs" fill="#2a2a2a">24</text>
<line x1="58.5" y1="881.1" x2="62" y2="881.1" stroke="#202020" stroke-width="1"/>
<text x="56" y="884.4" font-family="Liberation Sans, sans-serif" font-size="10.3" text-anchor="end" textLength="10.3" lengthAdjust="spacingAndGlyphs" fill="#2a2a2a">26</text>
<line x1="58.5" y1="837.9" x2="62" y2="837.9" stroke="#202020" stroke-width="1"/>
<text x="56" y="841.2" font-family="Liberation Sans, sans-serif" font-size="10.3" text-anchor="end" textLength="10.3" lengthAdjust="spacingAndGlyphs" fill="#2a2a2a">28</text>
<line x1="58.5" y1="794.7" x2="62" y2="794.7" stroke="#202020" stroke-width="1"/>
<text x="56" y="798.0" font-family="Liberation Sans, sans-serif" font-size="10.3" text-anchor="end" textLength="10.3" lengthAdjust="spacingAndGlyphs" fill="#2a2a2a">30</text>
<text x="169.5" y="1038.5" font-family="Liberation Sans, sans-serif" font-size="10" font-weight="bold" text-anchor="middle" textLength="19.6" lengthAdjust="spacingAndGlyphs" fill="#1a1a1a">SLR</text>
<text x="36.5" y="903" font-family="Liberation Sans, sans-serif" font-size="10" font-weight="bold" text-anchor="middle" textLength="23.3" lengthAdjust="spacingAndGlyphs" transform="rotate(-90 36.5 903)" fill="#1a1a1a">TIME</text>
<line x1="259" y1="894" x2="270.7" y2="905.2" stroke="#101010" stroke-width="0.8"/>
<rect x="184.5" y="860.5" width="74" height="33" fill="#ffffff" stroke="#202020" stroke-width="1"/>
<text x="191.6" y="870.0999999999999" font-family="Liberation Sans, sans-serif" font-size="8.8" textLength="48.5" lengthAdjust="spacingAndGlyphs" fill="#2a2a2a">SLR = 29.3942</text>
<text x="191.6" y="879.8" font-family="Liberation Sans, sans-serif" font-size="8.8" textLength="53" lengthAdjust="spacingAndGlyphs" fill="#2a2a2a">TIME = 24.8668</text>
<text x="191.6" y="890.0" font-family="Liberation Sans, sans-serif" font-size="8.8" textLength="50.5" lengthAdjust="spacingAndGlyphs" fill="#2a2a2a">TPC = 185.354</text>
<defs>
<linearGradient id="ga" gradientUnits="userSpaceOnUse" x1="411" y1="0" x2="553" y2="0">
<stop offset="0" stop-color="#081808"/><stop offset="0.12" stop-color="#102c10"/><stop offset="0.3" stop-color="#1e4e1e"/><stop offset="0.5" stop-color="#378237"/><stop offset="0.7" stop-color="#2f762f"/><stop offset="0.87" stop-color="#1f521f"/><stop offset="1" stop-color="#0f2c0f"/></linearGradient>
<radialGradient id="ga2" gradientUnits="userSpaceOnUse" cx="0" cy="0" r="1" gradientTransform="translate(490 181) rotate(42) scale(44 24)">
<stop offset="0" stop-color="#bdd2bd" stop-opacity="0.97"/><stop offset="0.4" stop-color="#a5c3a5" stop-opacity="0.85"/><stop offset="0.72" stop-color="#7fae7f" stop-opacity="0.42"/><stop offset="1" stop-color="#5a9a5a" stop-opacity="0"/></radialGradient>
<linearGradient id="gb" gradientUnits="userSpaceOnUse" x1="405" y1="630" x2="545" y2="532">
<stop offset="0" stop-color="#295c29"/><stop offset="0.35" stop-color="#327032"/><stop offset="0.7" stop-color="#438843"/><stop offset="0.86" stop-color="#3f803f"/><stop offset="0.94" stop-color="#1f4a1f"/><stop offset="1" stop-color="#0a1c0a"/></linearGradient>
<linearGradient id="gc" gradientUnits="userSpaceOnUse" x1="427" y1="958" x2="554" y2="877">
<stop offset="0" stop-color="#2f6a2f"/><stop offset="0.4" stop-color="#377837"/><stop offset="0.8" stop-color="#458a45"/><stop offset="1" stop-color="#6aa56a"/></linearGradient>
<radialGradient id="gb2" gradientUnits="userSpaceOnUse" cx="0" cy="0" r="1" gradientTransform="translate(503 575) rotate(-35) scale(26 12)">
<stop offset="0" stop-color="#78b078" stop-opacity="0.75"/><stop offset="0.6" stop-color="#5a9a5a" stop-opacity="0.3"/><stop offset="1" stop-color="#4a8a4a" stop-opacity="0"/></radialGradient>
<radialGradient id="gc2" gradientUnits="userSpaceOnUse" cx="0" cy="0" r="1" gradientTransform="translate(516 905) rotate(-33) scale(26 10)">
<stop offset="0" stop-color="#6aa86a" stop-opacity="0.6"/><stop offset="0.6" stop-color="#5a9a5a" stop-opacity="0.25"/><stop offset="1" stop-color="#4a8a4a" stop-opacity="0"/></radialGradient>
</defs>
<text x="378.1" y="46.7" font-family="Liberation Sans, sans-serif" font-size="13.4" font-weight="bold" textLength="254.5" lengthAdjust="spacingAndGlyphs" fill="#111">Surface Plot of TPC vs TIME, PARTICLE SIZE</text>
<polygon points="397.3,171.3 447.7,118.0 563.2,137.5 564.3,221.3 515.1,273.8 399.2,253.9" fill="#ffffff"/>
<line x1="397.3" y1="171.3" x2="447.7" y2="118.0" stroke="#1c1c1c" stroke-width="0.9"/>
<line x1="447.7" y1="118.0" x2="563.2" y2="137.5" stroke="#1c1c1c" stroke-width="0.9"/>
<line x1="563.2" y1="137.5" x2="564.3" y2="221.3" stroke="#1c1c1c" stroke-width="0.9"/>
<line x1="564.3" y1="221.3" x2="515.1" y2="273.8" stroke="#1c1c1c" stroke-width="1.05"/>
<line x1="515.1" y1="273.8" x2="399.2" y2="253.9" stroke="#1c1c1c" stroke-width="1.05"/>
<line x1="399.2" y1="253.9" x2="397.3" y2="171.3" stroke="#1c1c1c" stroke-width="1.05"/>
<line x1="447.7" y1="118.0" x2="448.3" y2="200.3" stroke="#1c1c1c" stroke-width="0.9"/>
<line x1="448.3" y1="200.3" x2="564.3" y2="221.3" stroke="#1c1c1c" stroke-width="0.9"/>
<line x1="448.3" y1="200.3" x2="399.2" y2="253.9" stroke="#1c1c1c" stroke-width="0.9"/>
<path d="M412.9 239.0C413.0 238.4 414.6 235.9 416.1 232.8C417.7 229.7 419.9 225.0 422.2 220.5C424.5 216.0 427.4 210.4 430.0 205.8C432.6 201.2 435.3 197.0 437.9 193.1C440.5 189.2 443.1 185.7 445.7 182.3C448.3 178.9 450.9 175.4 453.5 172.5C456.1 169.6 458.8 167.0 461.4 164.7C464.0 162.4 466.4 160.3 468.9 158.7C471.3 157.1 473.7 156.0 476.1 155.1C478.5 154.2 480.8 153.6 483.4 153.2C486.0 152.8 489.2 152.6 491.8 152.7C494.4 152.8 496.6 153.2 499.0 153.9C501.4 154.6 503.9 155.6 506.3 156.8C508.7 158.0 511.1 159.2 513.5 160.9C515.9 162.6 518.3 164.9 520.7 167.2C523.1 169.5 525.6 172.0 528.0 174.9C530.4 177.8 533.0 181.3 535.2 184.5C537.4 187.7 539.2 191.0 541.2 194.2C543.2 197.4 545.2 201.0 547.2 203.8C549.2 206.6 553.5 210.4 553.3 211.0C553.1 211.6 548.4 208.5 546.0 207.4C543.6 206.3 541.2 205.2 538.8 204.3C536.4 203.4 534.0 202.5 531.6 202.1C529.2 201.7 526.7 201.7 524.3 201.9C521.9 202.1 519.1 202.5 517.1 203.1C515.1 203.7 513.7 205.5 512.3 205.7C510.9 205.9 510.1 205.4 508.7 204.3C507.3 203.2 505.7 200.7 503.9 199.0C502.1 197.3 500.0 195.7 497.8 194.2C495.6 192.7 493.0 190.9 490.6 189.8C488.2 188.7 485.8 188.0 483.4 187.4C481.0 186.8 478.5 186.5 476.1 186.4C473.7 186.3 471.3 186.6 468.9 186.9C466.5 187.2 464.1 187.7 461.7 188.5C459.3 189.3 456.7 190.5 454.5 191.6C452.3 192.7 450.5 193.4 448.6 194.9C446.7 196.4 445.1 198.4 443.2 200.6C441.3 202.8 439.2 205.7 437.2 208.3C435.2 210.9 433.1 213.5 431.1 216.1C429.1 218.7 427.1 221.4 425.1 224.0C423.1 226.6 420.7 229.8 419.1 231.8C417.5 233.8 416.5 235.0 415.5 236.2C414.5 237.4 412.8 239.6 412.9 239.0Z" fill="url(#ga)"/>
<path d="M412.9 239.0C413.0 238.4 414.6 235.9 416.1 232.8C417.7 229.7 419.9 225.0 422.2 220.5C424.5 216.0 427.4 210.4 430.0 205.8C432.6 201.2 435.3 197.0 437.9 193.1C440.5 189.2 443.1 185.7 445.7 182.3C448.3 178.9 450.9 175.4 453.5 172.5C456.1 169.6 458.8 167.0 461.4 164.7C464.0 162.4 466.4 160.3 468.9 158.7C471.3 157.1 473.7 156.0 476.1 155.1C478.5 154.2 480.8 153.6 483.4 153.2C486.0 152.8 489.2 152.6 491.8 152.7C494.4 152.8 496.6 153.2 499.0 153.9C501.4 154.6 503.9 155.6 506.3 156.8C508.7 158.0 511.1 159.2 513.5 160.9C515.9 162.6 518.3 164.9 520.7 167.2C523.1 169.5 525.6 172.0 528.0 174.9C530.4 177.8 533.0 181.3 535.2 184.5C537.4 187.7 539.2 191.0 541.2 194.2C543.2 197.4 545.2 201.0 547.2 203.8C549.2 206.6 553.5 210.4 553.3 211.0C553.1 211.6 548.4 208.5 546.0 207.4C543.6 206.3 541.2 205.2 538.8 204.3C536.4 203.4 534.0 202.5 531.6 202.1C529.2 201.7 526.7 201.7 524.3 201.9C521.9 202.1 519.1 202.5 517.1 203.1C515.1 203.7 513.7 205.5 512.3 205.7C510.9 205.9 510.1 205.4 508.7 204.3C507.3 203.2 505.7 200.7 503.9 199.0C502.1 197.3 500.0 195.7 497.8 194.2C495.6 192.7 493.0 190.9 490.6 189.8C488.2 188.7 485.8 188.0 483.4 187.4C481.0 186.8 478.5 186.5 476.1 186.4C473.7 186.3 471.3 186.6 468.9 186.9C466.5 187.2 464.1 187.7 461.7 188.5C459.3 189.3 456.7 190.5 454.5 191.6C452.3 192.7 450.5 193.4 448.6 194.9C446.7 196.4 445.1 198.4 443.2 200.6C441.3 202.8 439.2 205.7 437.2 208.3C435.2 210.9 433.1 213.5 431.1 216.1C429.1 218.7 427.1 221.4 425.1 224.0C423.1 226.6 420.7 229.8 419.1 231.8C417.5 233.8 416.5 235.0 415.5 236.2C414.5 237.4 412.8 239.6 412.9 239.0Z" fill="url(#ga2)"/>
<line x1="533.5" y1="125.5" x2="506.7" y2="161.3" stroke="#ff0000" stroke-width="1"/>
<polygon points="500.7,169.3 503.3,158.7 510.1,163.8" fill="#ff0000"/>
<text x="384.0" y="174.79999999999998" font-family="Liberation Sans, sans-serif" font-size="9.4" text-anchor="end" textLength="10.8" lengthAdjust="spacingAndGlyphs" fill="#222">150</text>
<line x1="397.6" y1="173.8" x2="394.5" y2="174.4" stroke="#1c1c1c" stroke-width="0.9"/>
<text x="384.6344" y="199.2" font-family="Liberation Sans, sans-serif" font-size="9.4" text-anchor="end" textLength="10.8" lengthAdjust="spacingAndGlyphs" fill="#222">145</text>
<line x1="398.2" y1="198.2" x2="395.0" y2="198.8" stroke="#1c1c1c" stroke-width="0.9"/>
<text x="385.2454" y="222.7" font-family="Liberation Sans, sans-serif" font-size="9.4" text-anchor="end" textLength="10.8" lengthAdjust="spacingAndGlyphs" fill="#222">140</text>
<line x1="398.7" y1="221.7" x2="395.6" y2="222.3" stroke="#1c1c1c" stroke-width="0.9"/>
<text x="385.859" y="246.29999999999998" font-family="Liberation Sans, sans-serif" font-size="9.4" text-anchor="end" textLength="10.8" lengthAdjust="spacingAndGlyphs" fill="#222">135</text>
<line x1="399.2" y1="245.3" x2="396.1" y2="245.9" stroke="#1c1c1c" stroke-width="0.9"/>
<text x="348.2" y="208.5" font-family="Liberation Sans, sans-serif" font-size="9.2" font-weight="bold" textLength="15.7" lengthAdjust="spacingAndGlyphs" fill="#222">TPC</text>
<text x="398.7" y="267.9" font-family="Liberation Sans, sans-serif" font-size="9.4" text-anchor="middle" textLength="12.4" lengthAdjust="spacingAndGlyphs" fill="#222">200</text>
<line x1="409.1" y1="255.6" x2="410.0" y2="258.7" stroke="#1c1c1c" stroke-width="0.9"/>
<text x="429.4" y="273.8" font-family="Liberation Sans, sans-serif" font-size="9.4" text-anchor="middle" textLength="12.4" lengthAdjust="spacingAndGlyphs" fill="#222">400</text>
<line x1="440.2" y1="260.9" x2="441.1" y2="264.0" stroke="#1c1c1c" stroke-width="0.9"/>
<text x="459.8" y="278.8" font-family="Liberation Sans, sans-serif" font-size="9.4" text-anchor="middle" textLength="12.4" lengthAdjust="spacingAndGlyphs" fill="#222">600</text>
<line x1="471.3" y1="266.3" x2="472.2" y2="269.3" stroke="#1c1c1c" stroke-width="0.9"/>
<text x="490.2" y="283.8" font-family="Liberation Sans, sans-serif" font-size="9.4" text-anchor="middle" textLength="12.4" lengthAdjust="spacingAndGlyphs" fill="#222">800</text>
<line x1="502.4" y1="271.6" x2="503.3" y2="274.7" stroke="#1c1c1c" stroke-width="0.9"/>
<text x="404.9" y="292.1" font-family="Liberation Sans, sans-serif" font-size="9.2" font-weight="bold" textLength="55.3" lengthAdjust="spacingAndGlyphs" fill="#222">PATICLE SIZE</text>
<text x="533.6" y="276.8" font-family="Liberation Sans, sans-serif" font-size="9.4" text-anchor="middle" textLength="8" lengthAdjust="spacingAndGlyphs" fill="#222">20</text>
<line x1="516.6" y1="272.2" x2="519.7" y2="273.0" stroke="#1c1c1c" stroke-width="0.9"/>
<text x="556.4" y="253.5" font-family="Liberation Sans, sans-serif" font-size="9.4" text-anchor="middle" textLength="8" lengthAdjust="spacingAndGlyphs" fill="#222">25</text>
<line x1="539.7" y1="247.6" x2="542.8" y2="248.3" stroke="#1c1c1c" stroke-width="0.9"/>
<text x="578" y="229.2" font-family="Liberation Sans, sans-serif" font-size="9.4" text-anchor="middle" textLength="8" lengthAdjust="spacingAndGlyphs" fill="#222">30</text>
<line x1="562.8" y1="222.9" x2="565.9" y2="223.7" stroke="#1c1c1c" stroke-width="0.9"/>
<text x="569" y="256.3" font-family="Liberation Sans, sans-serif" font-size="9.2" font-weight="bold" textLength="20.4" lengthAdjust="spacingAndGlyphs" fill="#222">TIME</text>
<text x="376.6" y="425.1" font-family="Liberation Sans, sans-serif" font-size="13.4" font-weight="bold" textLength="249.6" lengthAdjust="spacingAndGlyphs" fill="#111">Surface Plot of TPC vs PARTICLE SIZE, SLR</text>
<polygon points="392.7,552.3 442.8,497.5 557.6,517.0 558.9,603.0 510.9,657.6 394.7,636.7" fill="#ffffff"/>
<line x1="392.7" y1="552.3" x2="442.8" y2="497.5" stroke="#1c1c1c" stroke-width="0.9"/>
<line x1="442.8" y1="497.5" x2="557.6" y2="517.0" stroke="#1c1c1c" stroke-width="0.9"/>
<line x1="557.6" y1="517.0" x2="558.9" y2="603.0" stroke="#1c1c1c" stroke-width="0.9"/>
<line x1="558.9" y1="603.0" x2="510.9" y2="657.6" stroke="#1c1c1c" stroke-width="1.05"/>
<line x1="510.9" y1="657.6" x2="394.7" y2="636.7" stroke="#1c1c1c" stroke-width="1.05"/>
<line x1="394.7" y1="636.7" x2="392.7" y2="552.3" stroke="#1c1c1c" stroke-width="1.05"/>
<line x1="442.8" y1="497.5" x2="444.2" y2="581.2" stroke="#1c1c1c" stroke-width="0.9"/>
<line x1="444.2" y1="581.2" x2="558.9" y2="603.0" stroke="#1c1c1c" stroke-width="0.9"/>
<line x1="444.2" y1="581.2" x2="394.7" y2="636.7" stroke="#1c1c1c" stroke-width="0.9"/>
<path d="M403.8 630.2C403.9 627.7 409.0 620.0 411.7 615.6C414.4 611.2 417.3 607.8 420.1 603.9C422.9 600.0 425.8 595.7 428.6 592.4C431.4 589.1 434.2 586.3 437.0 584.1C439.8 581.9 442.6 580.2 445.4 579.1C448.2 578.0 451.1 577.9 453.9 577.5C456.7 577.1 459.5 577.2 462.3 576.7C465.1 576.2 467.8 575.5 470.7 574.6C473.6 573.7 477.0 572.6 480.0 571.5C483.0 570.4 485.6 569.3 488.6 567.8C491.6 566.3 495.0 564.4 498.2 562.6C501.4 560.9 504.6 559.2 507.8 557.3C511.0 555.4 514.3 553.4 517.5 551.3C520.7 549.2 523.9 546.8 527.1 544.5C530.3 542.2 533.5 540.0 536.7 537.7C540.0 535.5 546.2 531.1 546.6 531.0C547.0 530.9 541.7 535.0 539.2 537.0C536.8 539.0 534.3 540.8 531.9 543.0C529.5 545.2 526.9 547.6 524.7 550.2C522.5 552.8 520.5 555.9 518.7 558.7C516.9 561.5 515.3 564.3 513.9 567.1C512.5 569.9 511.4 572.9 510.2 575.5C509.0 578.1 508.0 580.8 506.6 582.8C505.2 584.8 503.6 586.0 501.8 587.6C500.0 589.2 498.0 590.8 495.8 592.4C493.6 594.0 491.4 595.2 488.6 597.2C485.8 599.2 482.1 602.2 478.9 604.2C475.7 606.2 472.5 607.5 469.3 609.2C466.1 610.9 462.8 612.8 459.6 614.4C456.4 616.0 453.8 617.4 450.0 619.0C446.2 620.6 440.6 622.7 437.0 624.0C433.4 625.3 431.4 626.1 428.6 627.0C425.8 627.9 423.0 628.7 420.1 629.3C417.2 629.9 413.7 630.5 411.0 630.6C408.3 630.8 403.7 632.7 403.8 630.2Z" fill="url(#gb)"/>
<path d="M403.8 630.2C403.9 627.7 409.0 620.0 411.7 615.6C414.4 611.2 417.3 607.8 420.1 603.9C422.9 600.0 425.8 595.7 428.6 592.4C431.4 589.1 434.2 586.3 437.0 584.1C439.8 581.9 442.6 580.2 445.4 579.1C448.2 578.0 451.1 577.9 453.9 577.5C456.7 577.1 459.5 577.2 462.3 576.7C465.1 576.2 467.8 575.5 470.7 574.6C473.6 573.7 477.0 572.6 480.0 571.5C483.0 570.4 485.6 569.3 488.6 567.8C491.6 566.3 495.0 564.4 498.2 562.6C501.4 560.9 504.6 559.2 507.8 557.3C511.0 555.4 514.3 553.4 517.5 551.3C520.7 549.2 523.9 546.8 527.1 544.5C530.3 542.2 533.5 540.0 536.7 537.7C540.0 535.5 546.2 531.1 546.6 531.0C547.0 530.9 541.7 535.0 539.2 537.0C536.8 539.0 534.3 540.8 531.9 543.0C529.5 545.2 526.9 547.6 524.7 550.2C522.5 552.8 520.5 555.9 518.7 558.7C516.9 561.5 515.3 564.3 513.9 567.1C512.5 569.9 511.4 572.9 510.2 575.5C509.0 578.1 508.0 580.8 506.6 582.8C505.2 584.8 503.6 586.0 501.8 587.6C500.0 589.2 498.0 590.8 495.8 592.4C493.6 594.0 491.4 595.2 488.6 597.2C485.8 599.2 482.1 602.2 478.9 604.2C475.7 606.2 472.5 607.5 469.3 609.2C466.1 610.9 462.8 612.8 459.6 614.4C456.4 616.0 453.8 617.4 450.0 619.0C446.2 620.6 440.6 622.7 437.0 624.0C433.4 625.3 431.4 626.1 428.6 627.0C425.8 627.9 423.0 628.7 420.1 629.3C417.2 629.9 413.7 630.5 411.0 630.6C408.3 630.8 403.7 632.7 403.8 630.2Z" fill="url(#gb2)"/>
<line x1="594.1" y1="571.2" x2="528.4" y2="571.2" stroke="#ff0000" stroke-width="1"/>
<polygon points="519.4,571.2 528.4,566.5 528.4,575.9" fill="#ff0000"/>
<text x="379.4" y="565.5" font-family="Liberation Sans, sans-serif" font-size="9.4" text-anchor="end" textLength="11.1" lengthAdjust="spacingAndGlyphs" fill="#222">180</text>
<line x1="393.0" y1="565.3" x2="389.9" y2="565.9" stroke="#1c1c1c" stroke-width="0.9"/>
<text x="379.9694" y="587.4000000000001" font-family="Liberation Sans, sans-serif" font-size="9.4" text-anchor="end" textLength="11.1" lengthAdjust="spacingAndGlyphs" fill="#222">160</text>
<line x1="393.5" y1="587.2" x2="390.4" y2="587.8" stroke="#1c1c1c" stroke-width="0.9"/>
<text x="380.53619999999995" y="609.2" font-family="Liberation Sans, sans-serif" font-size="9.4" text-anchor="end" textLength="11.1" lengthAdjust="spacingAndGlyphs" fill="#222">140</text>
<line x1="394.0" y1="609.0" x2="390.9" y2="609.6" stroke="#1c1c1c" stroke-width="0.9"/>
<text x="381.0822" y="630.2" font-family="Liberation Sans, sans-serif" font-size="9.4" text-anchor="end" textLength="11.1" lengthAdjust="spacingAndGlyphs" fill="#222">120</text>
<line x1="394.5" y1="630.0" x2="391.4" y2="630.6" stroke="#1c1c1c" stroke-width="0.9"/>
<text x="344.2" y="590.7" font-family="Liberation Sans, sans-serif" font-size="9.2" font-weight="bold" textLength="15.8" lengthAdjust="spacingAndGlyphs" fill="#222">TPC</text>
<text x="390.9" y="651.3000000000001" font-family="Liberation Sans, sans-serif" font-size="9.4" text-anchor="middle" textLength="7.8" lengthAdjust="spacingAndGlyphs" fill="#222">10</text>
<line x1="398.2" y1="637.3" x2="399.1" y2="640.4" stroke="#1c1c1c" stroke-width="0.9"/>
<text x="443.3" y="661.0" font-family="Liberation Sans, sans-serif" font-size="9.4" text-anchor="middle" textLength="7.8" lengthAdjust="spacingAndGlyphs" fill="#222">20</text>
<line x1="452.8" y1="647.2" x2="453.7" y2="650.2" stroke="#1c1c1c" stroke-width="0.9"/>
<text x="494.4" y="670.1" font-family="Liberation Sans, sans-serif" font-size="9.4" text-anchor="middle" textLength="7.8" lengthAdjust="spacingAndGlyphs" fill="#222">30</text>
<line x1="507.4" y1="657.0" x2="508.3" y2="660.0" stroke="#1c1c1c" stroke-width="0.9"/>
<text x="425.2" y="672" font-family="Liberation Sans, sans-serif" font-size="9.2" font-weight="bold" textLength="14.4" lengthAdjust="spacingAndGlyphs" fill="#222">SLR</text>
<text x="532.4" y="660.3000000000001" font-family="Liberation Sans, sans-serif" font-size="9.4" text-anchor="middle" textLength="11.8" lengthAdjust="spacingAndGlyphs" fill="#222">200</text>
<line x1="515.0" y1="653.0" x2="518.1" y2="653.7" stroke="#1c1c1c" stroke-width="0.9"/>
<text x="545" y="644.9000000000001" font-family="Liberation Sans, sans-serif" font-size="9.4" text-anchor="middle" textLength="11.8" lengthAdjust="spacingAndGlyphs" fill="#222">400</text>
<line x1="527.9" y1="638.3" x2="531.0" y2="639.1" stroke="#1c1c1c" stroke-width="0.9"/>
<text x="557.8" y="630.6" font-family="Liberation Sans, sans-serif" font-size="9.4" text-anchor="middle" textLength="11.8" lengthAdjust="spacingAndGlyphs" fill="#222">600</text>
<line x1="540.7" y1="623.7" x2="543.8" y2="624.4" stroke="#1c1c1c" stroke-width="0.9"/>
<text x="570.9" y="616.0" font-family="Liberation Sans, sans-serif" font-size="9.4" text-anchor="middle" textLength="11.8" lengthAdjust="spacingAndGlyphs" fill="#222">800</text>
<line x1="553.6" y1="609.0" x2="556.7" y2="609.8" stroke="#1c1c1c" stroke-width="0.9"/>
<text x="563.5" y="641.6" font-family="Liberation Sans, sans-serif" font-size="9.2" font-weight="bold" textLength="40.4" lengthAdjust="spacingAndGlyphs" fill="#222">PARTICLE</text>
<text x="428" y="771.7" font-family="Liberation Sans, sans-serif" font-size="13.4" font-weight="bold" textLength="185" lengthAdjust="spacingAndGlyphs" fill="#111">Surface Plot of TPC vs TIME, SLR</text>
<polygon points="414.3,891.1 462.8,840.2 574.8,858.9 576.2,938.3 528.9,988.9 416.2,969.8" fill="#ffffff"/>
<line x1="414.3" y1="891.1" x2="462.8" y2="840.2" stroke="#1c1c1c" stroke-width="0.9"/>
<line x1="462.8" y1="840.2" x2="574.8" y2="858.9" stroke="#1c1c1c" stroke-width="0.9"/>
<line x1="574.8" y1="858.9" x2="576.2" y2="938.3" stroke="#1c1c1c" stroke-width="0.9"/>
<line x1="576.2" y1="938.3" x2="528.9" y2="988.9" stroke="#1c1c1c" stroke-width="1.05"/>
<line x1="528.9" y1="988.9" x2="416.2" y2="969.8" stroke="#1c1c1c" stroke-width="1.05"/>
<line x1="416.2" y1="969.8" x2="414.3" y2="891.1" stroke="#1c1c1c" stroke-width="1.05"/>
<line x1="462.8" y1="840.2" x2="464.5" y2="918.5" stroke="#1c1c1c" stroke-width="0.9"/>
<line x1="464.5" y1="918.5" x2="576.2" y2="938.3" stroke="#1c1c1c" stroke-width="0.9"/>
<line x1="464.5" y1="918.5" x2="416.2" y2="969.8" stroke="#1c1c1c" stroke-width="0.9"/>
<path d="M426.3 958.0C426.3 956.8 431.6 953.0 434.3 950.2C437.1 947.4 440.0 944.5 442.8 941.3C445.6 938.1 448.4 934.5 451.2 931.2C454.0 927.9 457.2 924.2 459.6 921.7C462.0 919.2 463.4 917.1 465.5 916.0C467.6 914.9 469.8 915.7 472.3 915.3C474.8 914.9 477.9 914.4 480.7 913.7C483.5 913.1 486.3 912.3 489.3 911.4C492.3 910.5 495.7 909.6 498.9 908.5C502.1 907.4 505.4 906.1 508.6 904.7C511.8 903.3 515.0 901.8 518.2 900.2C521.4 898.6 524.6 896.9 527.8 895.0C531.0 893.1 534.3 891.0 537.5 889.0C540.7 887.0 544.1 884.6 547.1 882.7C550.1 880.8 555.0 877.2 555.3 877.5C555.6 877.8 551.4 882.0 549.0 884.3C546.6 886.6 543.7 888.9 541.0 891.3C538.3 893.7 535.3 896.1 532.7 898.7C530.1 901.3 527.8 904.5 525.4 907.1C523.0 909.7 520.6 911.9 518.2 914.3C515.8 916.7 513.4 919.4 511.0 921.6C508.6 923.8 506.5 925.4 503.7 927.6C500.9 929.8 497.2 932.6 494.1 934.8C491.0 937.0 487.8 939.2 484.9 941.0C482.0 942.8 479.3 944.1 476.5 945.5C473.7 946.9 470.9 948.0 468.1 949.1C465.3 950.2 462.4 951.0 459.6 951.9C456.8 952.8 454.0 953.7 451.2 954.4C448.4 955.1 445.6 955.6 442.8 956.1C440.0 956.6 437.1 957.0 434.3 957.3C431.6 957.6 426.3 959.2 426.3 958.0Z" fill="url(#gc)"/>
<path d="M426.3 958.0C426.3 956.8 431.6 953.0 434.3 950.2C437.1 947.4 440.0 944.5 442.8 941.3C445.6 938.1 448.4 934.5 451.2 931.2C454.0 927.9 457.2 924.2 459.6 921.7C462.0 919.2 463.4 917.1 465.5 916.0C467.6 914.9 469.8 915.7 472.3 915.3C474.8 914.9 477.9 914.4 480.7 913.7C483.5 913.1 486.3 912.3 489.3 911.4C492.3 910.5 495.7 909.6 498.9 908.5C502.1 907.4 505.4 906.1 508.6 904.7C511.8 903.3 515.0 901.8 518.2 900.2C521.4 898.6 524.6 896.9 527.8 895.0C531.0 893.1 534.3 891.0 537.5 889.0C540.7 887.0 544.1 884.6 547.1 882.7C550.1 880.8 555.0 877.2 555.3 877.5C555.6 877.8 551.4 882.0 549.0 884.3C546.6 886.6 543.7 888.9 541.0 891.3C538.3 893.7 535.3 896.1 532.7 898.7C530.1 901.3 527.8 904.5 525.4 907.1C523.0 909.7 520.6 911.9 518.2 914.3C515.8 916.7 513.4 919.4 511.0 921.6C508.6 923.8 506.5 925.4 503.7 927.6C500.9 929.8 497.2 932.6 494.1 934.8C491.0 937.0 487.8 939.2 484.9 941.0C482.0 942.8 479.3 944.1 476.5 945.5C473.7 946.9 470.9 948.0 468.1 949.1C465.3 950.2 462.4 951.0 459.6 951.9C456.8 952.8 454.0 953.7 451.2 954.4C448.4 955.1 445.6 955.6 442.8 956.1C440.0 956.6 437.1 957.0 434.3 957.3C431.6 957.6 426.3 959.2 426.3 958.0Z" fill="url(#gc2)"/>
<line x1="620.6" y1="905.2" x2="538.0" y2="915.3" stroke="#ff0000" stroke-width="1"/>
<polygon points="528.6,916.5 537.5,910.9 538.6,919.8" fill="#ff0000"/>
<text x="401.5" y="904.5" font-family="Liberation Sans, sans-serif" font-size="9.4" text-anchor="end" textLength="11.2" lengthAdjust="spacingAndGlyphs" fill="#222">180</text>
<line x1="414.6" y1="904.3" x2="411.5" y2="904.9" stroke="#1c1c1c" stroke-width="0.9"/>
<text x="402.059" y="926.0" font-family="Liberation Sans, sans-serif" font-size="9.4" text-anchor="end" textLength="11.2" lengthAdjust="spacingAndGlyphs" fill="#222">160</text>
<line x1="415.1" y1="925.8" x2="412.0" y2="926.4" stroke="#1c1c1c" stroke-width="0.9"/>
<text x="402.618" y="947.5" font-family="Liberation Sans, sans-serif" font-size="9.4" text-anchor="end" textLength="11.2" lengthAdjust="spacingAndGlyphs" fill="#222">140</text>
<line x1="415.6" y1="947.3" x2="412.5" y2="947.9" stroke="#1c1c1c" stroke-width="0.9"/>
<text x="403.1666" y="968.6" font-family="Liberation Sans, sans-serif" font-size="9.4" text-anchor="end" textLength="11.2" lengthAdjust="spacingAndGlyphs" fill="#222">120</text>
<line x1="416.1" y1="968.4" x2="412.9" y2="969.0" stroke="#1c1c1c" stroke-width="0.9"/>
<text x="366.9" y="926.5" font-family="Liberation Sans, sans-serif" font-size="9.2" font-weight="bold" textLength="15.4" lengthAdjust="spacingAndGlyphs" fill="#222">TPC</text>
<text x="412.4" y="983.0" font-family="Liberation Sans, sans-serif" font-size="9.4" text-anchor="middle" textLength="7.8" lengthAdjust="spacingAndGlyphs" fill="#222">10</text>
<line x1="419.6" y1="970.4" x2="420.5" y2="973.4" stroke="#1c1c1c" stroke-width="0.9"/>
<text x="463.6" y="992.0" font-family="Liberation Sans, sans-serif" font-size="9.4" text-anchor="middle" textLength="7.8" lengthAdjust="spacingAndGlyphs" fill="#222">20</text>
<line x1="472.5" y1="979.3" x2="473.5" y2="982.4" stroke="#1c1c1c" stroke-width="0.9"/>
<text x="513.5" y="1000.3000000000001" font-family="Liberation Sans, sans-serif" font-size="9.4" text-anchor="middle" textLength="7.8" lengthAdjust="spacingAndGlyphs" fill="#222">30</text>
<line x1="525.5" y1="988.3" x2="526.4" y2="991.4" stroke="#1c1c1c" stroke-width="0.9"/>
<text x="446" y="1002.2" font-family="Liberation Sans, sans-serif" font-size="9.2" font-weight="bold" textLength="14.5" lengthAdjust="spacingAndGlyphs" fill="#222">SLR</text>
<text x="546.9" y="992.0" font-family="Liberation Sans, sans-serif" font-size="9.4" text-anchor="middle" textLength="7.9" lengthAdjust="spacingAndGlyphs" fill="#222">20</text>
<line x1="530.3" y1="987.4" x2="533.4" y2="988.2" stroke="#1c1c1c" stroke-width="0.9"/>
<text x="568.6" y="969.7" font-family="Liberation Sans, sans-serif" font-size="9.4" text-anchor="middle" textLength="7.9" lengthAdjust="spacingAndGlyphs" fill="#222">25</text>
<line x1="552.5" y1="963.6" x2="555.7" y2="964.4" stroke="#1c1c1c" stroke-width="0.9"/>
<text x="589.5" y="946.8000000000001" font-family="Liberation Sans, sans-serif" font-size="9.4" text-anchor="middle" textLength="7.9" lengthAdjust="spacingAndGlyphs" fill="#222">30</text>
<line x1="574.8" y1="939.8" x2="577.9" y2="940.6" stroke="#1c1c1c" stroke-width="0.9"/>
<text x="580.8" y="972.2" font-family="Liberation Sans, sans-serif" font-size="9.2" font-weight="bold" textLength="19.9" lengthAdjust="spacingAndGlyphs" fill="#222">TIME</text>
</svg>
</body></html>
